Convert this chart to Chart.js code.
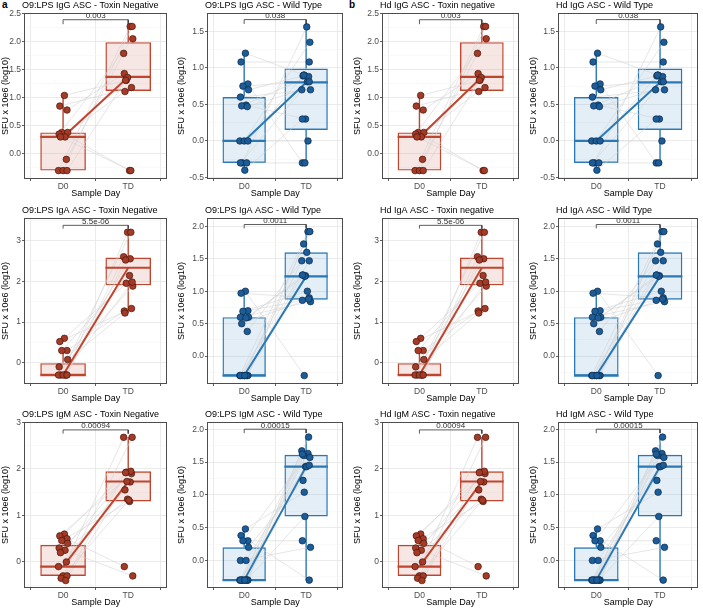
<!DOCTYPE html>
<html>
<head>
<meta charset="utf-8">
<script src="https://cdn.jsdelivr.net/npm/chart.js@4.4.1/dist/chart.umd.min.js"></script>
<style>
  html, body { margin: 0; padding: 0; background: #fff; }
  body { width: 703px; height: 608px; position: relative; overflow: hidden; font-family: 'Liberation Sans', Arial, sans-serif; }
  canvas { position: absolute; }
  .tag { position: absolute; font-weight: bold; font-size: 10px; color: #000; line-height: 10px; }
</style>
</head>
<body>
<div class="tag" style="left:2px;top:0px">a</div>
<div class="tag" style="left:349px;top:0px">b</div>
<script>
const DAYS = ['D0', 'TD'];

const TITLES = [
  'O9:LPS IgG ASC - Toxin Negative', 'O9:LPS IgG ASC - Wild Type', 'Hd IgG ASC - Toxin negative', 'Hd IgG ASC - Wild Type',
  'O9:LPS IgA ASC - Toxin Negative', 'O9:LPS IgA ASC - Wild Type', 'Hd IgA ASC - Toxin negative', 'Hd IgA ASC - Wild Type',
  'O9:LPS IgM ASC - Toxin Negative', 'O9:LPS IgM ASC - Wild Type', 'Hd IgM ASC - Toxin negative', 'Hd IgM ASC - Wild Type',
];

// paired values, subject i: D0[i] -> TD[i]
// box stats: [whisker low, q1, median, q3, whisker high]
const IGG_TN_D0 = [1.04, 0.85, 0.78, 0.38, 0.38, 0.35, 0.30, 0.30, -0.10, -0.30, -0.30, -0.30];
const IGG_TN_TD = [1.31, 1.18, 1.43, -0.30, 1.11, 2.05, 1.36, -0.30, 1.79, 2.27, 2.27, 1.31];
const IGG_TN_BOX_D0 = [-0.30, -0.30, 0.30, 0.38, 1.04];
const IGG_TN_BOX_TD = [1.11, 1.12, 1.37, 1.99, 2.27];
const IGG_TN_Y = [-0.45, 2.51];
const IGG_TN_TICKS = [0, 0.5, 1, 1.5, 2, 2.5];
const IGG_TN_BRACKET = [2.31, 2.39];

const IGG_WT_D0 = [1.20, 1.08, 0.78, 0.75, 0.70, 0.60, 0.49, 0.48, 0.47, 0.00, 0.00, 0.00, -0.30, -0.30, -0.30, -0.40];
const IGG_WT_TD = [0.90, 1.08, -0.30, 0.81, 0.89, 0.70, 0.30, 0.88, 0.70, 0.00, 1.35, 0.90, 1.56, -0.30, 0.81, 0.30];
const IGG_WT_BOX_D0 = [-0.40, -0.30, 0.00, 0.60, 1.20];
const IGG_WT_BOX_TD = [-0.30, 0.15, 0.80, 0.99, 1.56];
const IGG_WT_Y = [-0.52, 1.75];
const IGG_WT_TICKS = [-0.5, 0, 0.5, 1, 1.5];
const IGG_WT_BRACKET = [1.60, 1.66];

const IGA_TN_D0 = [0.60, 0.52, 0.30, 0.30, 0.08, -0.10, -0.30, -0.30, -0.30, -0.30, -0.30, -0.30];
const IGA_TN_TD = [1.95, 1.33, 1.27, 2.14, 1.22, 1.88, 3.20, 3.20, 2.60, 2.55, 1.98, 2.52];
const IGA_TN_BOX_D0 = [-0.30, -0.30, -0.30, 0.00, 0.30];
const IGA_TN_BOX_TD = [1.22, 1.90, 2.33, 2.58, 3.20];
const IGA_TN_Y = [-0.52, 3.55];
const IGA_TN_TICKS = [0, 1, 2, 3];
const IGA_TN_BRACKET = [3.29, 3.37];

const IGA_WT_D0 = [1.00, 0.97, 0.70, 0.69, 0.60, 0.60, 0.59, 0.50, 0.38, -0.30, -0.30, -0.30, -0.30, -0.30, -0.30, -0.30];
const IGA_WT_TD = [-0.30, 0.90, 0.86, 1.00, 1.25, 0.84, 1.24, 0.88, 1.47, 1.92, 1.92, 1.73, 1.60, 1.23, 1.47, 1.25];
const IGA_WT_BOX_D0 = [-0.30, -0.30, -0.30, 0.60, 1.00];
const IGA_WT_BOX_TD = [0.84, 0.87, 1.23, 1.60, 1.92];
const IGA_WT_Y = [-0.43, 2.13];
const IGA_WT_TICKS = [0, 0.5, 1, 1.5, 2];
const IGA_WT_BRACKET = [1.97, 2.03];

const IGM_TN_D0 = [0.60, 0.56, 0.50, 0.46, 0.40, 0.30, 0.25, 0.20, 0.00, -0.10, -0.30, -0.30, -0.35, -0.40];
const IGM_TN_TD = [1.93, 1.90, -0.10, 1.30, 1.55, -0.30, 1.35, 1.95, 2.68, 1.72, 2.68, 1.92, 1.33, 1.73];
const IGM_TN_BOX_D0 = [-0.40, -0.30, -0.10, 0.37, 0.60];
const IGM_TN_BOX_TD = [1.30, 1.30, 1.73, 1.95, 2.68];
const IGM_TN_Y = [-0.56, 3.01];
const IGM_TN_TICKS = [0, 1, 2, 3];
const IGM_TN_BRACKET = [2.76, 2.84];

const IGM_WT_D0 = [0.48, 0.38, 0.30, 0.30, 0.20, 0.00, 0.00, -0.30, -0.30, -0.30, -0.30, -0.30, -0.30, -0.30, -0.30, -0.30];
const IGM_WT_TD = [1.04, -0.30, 0.30, 1.60, 1.22, 0.20, 1.43, 1.88, 1.67, 1.63, 1.57, 1.60, 1.43, 0.67, 1.45, 1.62];
const IGM_WT_BOX_D0 = [-0.30, -0.31, -0.30, 0.20, 0.48];
const IGM_WT_BOX_TD = [-0.30, 0.67, 1.43, 1.61, 1.88];
const IGM_WT_Y = [-0.42, 2.11];
const IGM_WT_TICKS = [0, 0.5, 1, 1.5, 2];
const IGM_WT_BRACKET = [1.94, 2.00];

const P_VALUES = ['0.003', '0.038', '5.5e-06', '0.0011', '0.00094', '0.00015'];

// horizontal jitter of the dots (in category units)
const JIT_D0 = [0.02, -0.05, 0.06, -0.02, 0.07, -0.06, 0.03, -0.04, 0.05, -0.07, 0.00, 0.06, -0.03, 0.04, -0.06, 0.01];
const JIT_TD = [-0.03, 0.05, -0.06, 0.02, -0.05, 0.07, -0.01, 0.04, -0.07, 0.03, 0.06, -0.04, 0.01, -0.02, 0.05, -0.06];

const RED = { line: '#c0452e', fill: 'rgba(192,69,46,0.13)', pt: '#a53b27', edge: '#4a150b' };
const BLUE = { line: '#2a78b6', fill: 'rgba(42,120,182,0.13)', pt: '#1c5c98', edge: '#0b2b4b' };

const PANELS = [
  { d0: IGG_TN_D0, td: IGG_TN_TD, b0: IGG_TN_BOX_D0, b1: IGG_TN_BOX_TD, y: IGG_TN_Y, ticks: IGG_TN_TICKS, br: IGG_TN_BRACKET, p: P_VALUES[0], pal: RED },
  { d0: IGG_WT_D0, td: IGG_WT_TD, b0: IGG_WT_BOX_D0, b1: IGG_WT_BOX_TD, y: IGG_WT_Y, ticks: IGG_WT_TICKS, br: IGG_WT_BRACKET, p: P_VALUES[1], pal: BLUE },
  { d0: IGA_TN_D0, td: IGA_TN_TD, b0: IGA_TN_BOX_D0, b1: IGA_TN_BOX_TD, y: IGA_TN_Y, ticks: IGA_TN_TICKS, br: IGA_TN_BRACKET, p: P_VALUES[2], pal: RED },
  { d0: IGA_WT_D0, td: IGA_WT_TD, b0: IGA_WT_BOX_D0, b1: IGA_WT_BOX_TD, y: IGA_WT_Y, ticks: IGA_WT_TICKS, br: IGA_WT_BRACKET, p: P_VALUES[3], pal: BLUE },
  { d0: IGM_TN_D0, td: IGM_TN_TD, b0: IGM_TN_BOX_D0, b1: IGM_TN_BOX_TD, y: IGM_TN_Y, ticks: IGM_TN_TICKS, br: IGM_TN_BRACKET, p: P_VALUES[4], pal: RED },
  { d0: IGM_WT_D0, td: IGM_WT_TD, b0: IGM_WT_BOX_D0, b1: IGM_WT_BOX_TD, y: IGM_WT_Y, ticks: IGM_WT_TICKS, br: IGM_WT_BRACKET, p: P_VALUES[5], pal: BLUE },
];

// layout of the 4x3 grid
const COL_LEFT = [0, 172, 348, 524];
const COL_WIDTH = [172, 176, 176, 179];
const Y_AXIS_W = [24, 35, 34, 34];
const PAD_RIGHT = [1, 2, 3, 1];
const ROW_TOP = [0, 203, 405];
const ROW_HEIGHT = [203, 202, 203];
const PAD_TOP = [13, 15, 17];
const PAD_BOTTOM = [4, 1, 0];
const X_AXIS_H = 20;
const HALF_BOX = 0.35;
const FONT = "'Liberation Sans', Arial, sans-serif";

Chart.defaults.font.family = FONT;
Chart.defaults.animation = false;

const decor = {
  id: 'decor',
  afterDatasetsDraw(chart, args, opts) {
    const { ctx, chartArea: a, scales: { x, y } } = chart;
    ctx.save();
    ctx.strokeStyle = '#4d4d4d';
    ctx.lineWidth = 1;
    ctx.strokeRect(Math.round(a.left) + 0.5, Math.round(a.top) + 0.5, Math.round(a.right - a.left) - 1, Math.round(a.bottom - a.top) - 1);
    ctx.font = `8px ${FONT}`;
    ctx.fillStyle = '#333';
    ctx.textAlign = 'center';
    ctx.textBaseline = 'alphabetic';
    ctx.fillText(opts.p, x.getPixelForValue(1.5), y.getPixelForValue(opts.top) - 1.5);
    ctx.font = `9px ${FONT}`;
    ctx.fillStyle = '#000';
    ctx.textAlign = 'left';
    ctx.textBaseline = 'middle';
    ctx.fillText(opts.title, a.left - 2, a.top - 7);
    ctx.restore();
  },
};

function near(list, v) {
  return list.some(t => Math.abs(t - v) < 1e-6);
}

function buildPanel(row, col) {
  const panel = PANELS[row * 2 + (col % 2)];
  const title = TITLES[row * 4 + col];
  const pal = panel.pal;
  const step = panel.ticks[1] - panel.ticks[0];
  const minors = [];
  panel.ticks.forEach(t => {
    [t - step / 2, t + step / 2].forEach(m => {
      if (m > panel.y[0] && m < panel.y[1] && !near(minors, m)) minors.push(m);
    });
  });
  const yTicks = panel.ticks.concat(minors).sort((p, q) => p - q);

  const gap = { x: 1.5, y: null };
  const d0Pts = panel.d0.map((v, i) => ({ x: 1 + JIT_D0[i], y: v }));
  const tdPts = panel.td.map((v, i) => ({ x: 2 + JIT_TD[i], y: v }));
  const pairs = [];
  d0Pts.forEach((p, i) => { pairs.push(p, tdPts[i], gap); });
  const boxes = [panel.b0, panel.b1];
  const whiskers = [];
  const medians = [];
  boxes.forEach((b, i) => {
    const cx = i + 1;
    whiskers.push({ x: cx, y: b[0] }, { x: cx, y: b[1] }, gap, { x: cx, y: b[3] }, { x: cx, y: b[4] }, gap);
    medians.push({ x: cx - HALF_BOX, y: b[2] }, { x: cx + HALF_BOX, y: b[2] }, gap);
  });
  const connect = [{ x: 1, y: panel.b0[2] }, { x: 2, y: panel.b1[2] }];
  const bracket = [{ x: 1, y: panel.br[0] }, { x: 1, y: panel.br[1] }, { x: 2, y: panel.br[1] }, { x: 2, y: panel.br[0] }];

  const canvas = document.createElement('canvas');
  canvas.width = COL_WIDTH[col];
  canvas.height = ROW_HEIGHT[row];
  canvas.style.left = COL_LEFT[col] + 'px';
  canvas.style.top = ROW_TOP[row] + 'px';
  document.body.appendChild(canvas);

  const lineDs = (data, color, width, order) => ({
    type: 'scatter', data, showLine: true, borderColor: color, borderWidth: width,
    pointRadius: 0, pointHoverRadius: 0, order, spanGaps: false,
  });

  new Chart(canvas, {
    type: 'scatter',
    data: {
      datasets: [
        { type: 'scatter', data: d0Pts.concat(tdPts), pointRadius: 3.3, pointBackgroundColor: pal.pt,
          pointBorderColor: pal.edge, pointBorderWidth: 0.7, order: 0, clip: false },
        lineDs(connect, pal.line, 2, 1),
        lineDs(medians, pal.line, 2.2, 2),
        lineDs(pairs, 'rgba(210,210,210,0.8)', 0.7, 3),
        Object.assign(lineDs(bracket, '#333', 0.8, 4), { clip: false }),
        lineDs(whiskers, pal.line, 1.4, 5),
        { type: 'bar', data: boxes.map((b, i) => ({ x: i + 1, y: [b[1], b[3]] })),
          backgroundColor: pal.fill, borderColor: pal.line, borderWidth: 1.4, borderSkipped: false,
          barPercentage: HALF_BOX * 2, categoryPercentage: 1, order: 6 },
      ],
    },
    options: {
      responsive: false,
      animation: false,
      events: [],
      layout: { padding: { top: PAD_TOP[row], bottom: PAD_BOTTOM[row], left: 0, right: PAD_RIGHT[col] } },
      plugins: {
        legend: { display: false },
        tooltip: { enabled: false },
        decor: { p: panel.p, top: panel.br[1], title },
      },
      scales: {
        x: {
          type: 'linear', min: 0.4, max: 2.6, offset: false,
          afterBuildTicks: s => { s.ticks = [{ value: 1 }, { value: 2 }]; },
          afterFit: s => { s.height = X_AXIS_H; },
          border: { display: false },
          grid: { color: '#e6e6e6', lineWidth: 0.8, tickColor: '#333', tickLength: 2, tickWidth: 0.8 },
          ticks: { autoSkip: false, maxRotation: 0, padding: 1, color: '#4d4d4d', font: { size: 8.5 },
            callback: v => DAYS[v - 1] || '' },
          title: { display: true, text: 'Sample Day', color: '#000', font: { size: 9 }, padding: 0 },
        },
        y: {
          type: 'linear', min: panel.y[0], max: panel.y[1],
          afterBuildTicks: s => { s.ticks = yTicks.map(v => ({ value: v })); },
          afterFit: s => { s.width = Y_AXIS_W[col]; },
          border: { display: false },
          grid: {
            color: c => near(panel.ticks, c.tick.value) ? '#e6e6e6' : '#f3f3f3',
            lineWidth: c => near(panel.ticks, c.tick.value) ? 0.8 : 0.5,
            tickColor: c => near(panel.ticks, c.tick.value) ? '#333' : 'rgba(0,0,0,0)',
            tickLength: 2, tickWidth: 0.8,
          },
          ticks: { autoSkip: false, padding: 1, color: '#4d4d4d', font: { size: 8.5 },
            callback: v => near(panel.ticks, v) ? (step < 1 ? v.toFixed(1) : String(Math.round(v))) : '' },
          title: { display: true, text: 'SFU x 10e6 (log10)', color: '#000', font: { size: 9 },
            padding: { top: col === 0 ? 0 : 4, bottom: 0 } },
        },
      },
    },
    plugins: [decor],
  });
}

for (let r = 0; r < 3; r++) {
  for (let c = 0; c < 4; c++) buildPanel(r, c);
}
</script>
</body>
</html>
